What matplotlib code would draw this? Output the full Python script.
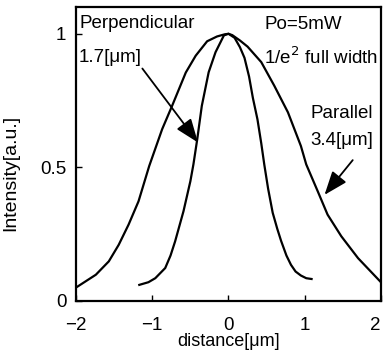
import matplotlib.pyplot as plt
import matplotlib.transforms as mtransforms

plt.rcParams['font.family'] = ['Liberation Sans', 'DejaVu Sans']

# parallel beam profile (1/e^2 full width 3.4 um)
par_x = [-2.0, -1.74, -1.57, -1.44, -1.31, -1.18, -1.04, -0.87, -0.74, -0.56, -0.43,
         -0.28, -0.15, -0.05, 0.0, 0.05, 0.15, 0.25, 0.43, 0.60, 0.78, 0.95, 1.02, 1.17,
         1.30, 1.48, 1.70, 1.85, 2.0]
par_y = [0.05, 0.098, 0.148, 0.21, 0.286, 0.373, 0.505, 0.643, 0.73, 0.855, 0.918,
         0.972, 0.99, 0.998, 1.0, 0.995, 0.975, 0.952, 0.894, 0.806, 0.706, 0.58, 0.511,
         0.411, 0.323, 0.242, 0.16, 0.115, 0.07]

# perpendicular beam profile (1/e^2 full width 1.7 um)
perp_x = [-1.17, -1.05, -0.96, -0.83, -0.76, -0.70, -0.59, -0.50, -0.46, -0.41, -0.35,
          -0.26, -0.17, -0.06, 0.0, 0.08, 0.15, 0.21, 0.27, 0.32, 0.38, 0.43, 0.47, 0.52,
          0.58, 0.64, 0.69, 0.76, 0.82, 0.88, 0.95, 1.02, 1.09]
perp_y = [0.06, 0.07, 0.085, 0.123, 0.17, 0.223, 0.336, 0.448, 0.511, 0.605, 0.73,
          0.856, 0.931, 0.994, 1.0, 0.985, 0.95, 0.91, 0.84, 0.76, 0.68, 0.59, 0.51, 0.42,
          0.33, 0.27, 0.225, 0.17, 0.135, 0.11, 0.095, 0.085, 0.082]

x_ticks = [-2, -1, 0, 1, 2]
x_labels = ['\u22122', '\u22121', '0', '1', '2']
y_ticks = [0, 0.5, 1]
y_labels = ['0', '0.5', '1']

fig = plt.figure(figsize=(3.84, 3.54), dpi=100)
ax = fig.add_axes([0.198, 0.150, 0.794, 0.830])

ax.plot(par_x, par_y, color='black', lw=1.6)
ax.plot(perp_x, perp_y, color='black', lw=1.6)

ax.set_xlim(-2, 2)
ax.set_ylim(0, 1.1)
ax.set_xticks(x_ticks)
ax.set_xticklabels(x_labels)
ax.set_yticks(y_ticks)
ax.set_yticklabels(y_labels)
ax.tick_params(direction='in', length=4, width=1, labelsize=13.5, pad=7)
ax.tick_params(axis='x', pad=11.5)
for s in ax.spines.values():
    s.set_linewidth(1.6)

# last x label sits right on the edge, nudge it in a bit
lab = ax.get_xticklabels()[-1]
lab.set_transform(lab.get_transform() + mtransforms.ScaledTranslation(-4 / 72, 0, fig.dpi_scale_trans))

ax.set_xlabel('distance[\u03bcm]', fontsize=13)
ax.xaxis.set_label_coords(0.5, -0.108)
ax.set_ylabel('Intensity[a.u.]', fontsize=14)
ax.yaxis.set_label_coords(-0.185, 0.434)

fs = 13.5
ax.text(-1.96, 1.04, 'Perpendicular', fontsize=fs, va='center', ha='left')
ax.text(-1.96, 0.911, '1.7[\u03bcm]', fontsize=fs, va='center', ha='left')
ax.text(0.47, 1.036, 'Po=5mW', fontsize=fs, va='center', ha='left')
ax.text(0.47, 0.911, '1/e$^2$ full width', fontsize=fs, va='center', ha='left')
ax.text(1.895, 0.703, 'Parallel', fontsize=fs, va='center', ha='right')
ax.text(1.895, 0.599, '3.4[\u03bcm]', fontsize=fs, va='center', ha='right')

arrow = dict(arrowstyle='-|>,head_length=1.45,head_width=0.55', color='black', lw=1.3,
             shrinkA=0, shrinkB=0)
ax.annotate('', xy=(-0.40, 0.593), xytext=(-1.13, 0.87), arrowprops=arrow)
ax.annotate('', xy=(1.26, 0.397), xytext=(1.63, 0.527), arrowprops=arrow)

fig.savefig('out.png', dpi=100)
